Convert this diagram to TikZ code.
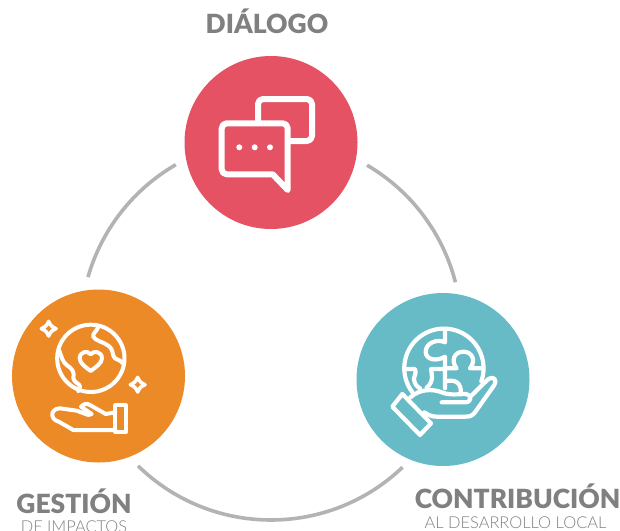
\documentclass[tikz,border=0pt]{standalone}
\usepackage{fontspec}
\setmainfont{Lato Light}
\newfontfamily\headf{Lato}[BoldFont=Lato Black]
\definecolor{cred}{HTML}{E55263}
\definecolor{corange}{HTML}{EC8A28}
\definecolor{cteal}{HTML}{66BBC6}
\definecolor{carc}{HTML}{B3B3B3}
\definecolor{ctext}{HTML}{808080}
\definecolor{csub}{HTML}{808080}
\tikzset{
  disc/.style={circle,inner sep=0pt,minimum size=173pt,fill=#1},
  ring/.style={draw=carc,line width=3.6pt},
  head/.style={anchor=base,inner sep=0pt,text=ctext,font=\headf\bfseries\fontsize{26.4}{26.4}\selectfont},
  sub/.style={anchor=base,inner sep=0pt,text=csub,font=\fontsize{16.4}{16.4}\selectfont},
  icon/.style={draw=white,line join=round,line cap=round,line width=#1},
}
\begin{document}
\begin{tikzpicture}[x=1pt,y=-1pt]
\useasboundingbox (0,0) rectangle (620,530);
\node[disc=cred] (dialogo) at (271,142.5) {};
\node[disc=corange] (gestion) at (98.5,376) {};
\node[disc=cteal] (contrib) at (443,379.5) {};
\coordinate (hub) at (271,329.6);
\coordinate (ga) at ([shift={(196:190.4)}]hub);
\coordinate (gb) at ([shift={(-59.7:190.4)}]hub);
\coordinate (gc) at ([shift={(46.3:190.4)}]hub);
\draw[ring] (ga) arc[start angle=196,end angle=240,radius=190.4];
\draw[ring] (gb) arc[start angle=-59.7,end angle=-14.4,radius=190.4];
\draw[ring] (gc) arc[start angle=46.3,end angle=134.3,radius=190.4];
\node[head] (t1) at (267,33.5) {DIÁLOGO};
\node[head] (t2) at (74,513) {GESTIÓN};
\node[sub] (t2b) at (74,532) {DE IMPACTOS};
\node[head] (t3) at (517.5,508) {CONTRIBUCIÓN};
\node[sub] (t3b) at (515.5,528.3) {AL DESARROLLO LOCAL};
% chat icon
\draw[icon=6pt] (258,123) -- (258,104) arc[start angle=180,end angle=270,radius=5] -- (307,99) arc[start angle=270,end angle=360,radius=5] -- (312,136) arc[start angle=0,end angle=90,radius=5] -- (288,141);
\draw[icon=6pt] (227,123.3) -- (282.7,123.3) arc[start angle=270,end angle=360,radius=5] -- (287.7,190) -- (272.7,174.3) -- (226.7,174.3) arc[start angle=90,end angle=180,radius=5] -- (221.7,128.3) arc[start angle=180,end angle=270,radius=5] -- cycle;
\foreach \px in {239.3,254.7,270}{\fill[white] (\px,147.3) circle[radius=3];}
% orange icon
\begin{scope}[shift={(35,315)},scale=1/3]
\draw[icon=4pt] (167.5,130) circle[radius=101];
\draw[icon=4pt] (190,35) .. controls (185,50) and (172,55) .. (175,65) .. controls (180,78) and (205,80) .. (220,92) .. controls (238,105) and (230,122) .. (240,130) .. controls (250,135) and (260,138) .. (264,145);
\draw[icon=4pt] (72,105) .. controls (80,125) and (82,140) .. (95,150) .. controls (110,160) and (120,170) .. (115,190) .. controls (118,205) and (135,205) .. (135,215) -- (130,228);
\draw[icon=4pt] (167,168) .. controls (150,155) and (135,145) .. (134,130) .. controls (134,110) and (158,105) .. (167,118) .. controls (176,105) and (201,110) .. (201,130) .. controls (200,145) and (184,155) .. (167,168) -- cycle;
\draw[icon=3.6pt] (41,19) .. controls (45,30) and (52,37) .. (63,41) .. controls (52,45) and (45,52) .. (41,63) .. controls (37,52) and (30,45) .. (19,41) .. controls (30,37) and (37,30) .. (41,19) -- cycle;
\draw[icon=3.6pt] (308,187) .. controls (312,198) and (319,205) .. (330,209) .. controls (319,213) and (312,220) .. (308,231) .. controls (304,220) and (297,213) .. (286,209) .. controls (297,205) and (304,198) .. (308,187) -- cycle;
\draw[icon=4pt] (241,271) rectangle (273,351);
\draw[icon=4pt] (241,292) -- (212,297) -- (165,270) .. controls (155,263) and (145,268) .. (138,275) -- (170,297) -- (160,300) -- (125,287) -- (75,280) .. controls (58,280) and (50,292) .. (52,302) .. controls (55,315) and (65,318) .. (75,322) -- (115,345) -- (241,345);
\end{scope}
% teal icon
\begin{scope}[shift={(395,325)},scale=1/3]
\draw[icon=4.2pt] (53,203) arc[start angle=142,end angle=379.5,radius=119];
\draw[icon=4.2pt] (150,12) -- (150,52) .. controls (125,40) and (92,55) .. (92,80) .. controls (92,105) and (125,110) .. (150,95) -- (150,190);
\draw[icon=4.2pt] (32,132) -- (60,132) -- (62,142) -- (57,160) .. controls (57,175) and (65,185) .. (75,190);
\draw[icon=4.2pt] (95,188) .. controls (105,180) and (115,165) .. (110,145) -- (108,132) -- (150,132);
\draw[icon=4.2pt] (150,130) -- (185,130) .. controls (165,105) and (180,80) .. (205,80) .. controls (230,80) and (245,105) .. (225,130) -- (264,130);
\draw[icon=4.2pt] (150,170) .. controls (180,160) and (200,175) .. (197,203);
\draw[icon=4.2pt] (22,207) -- (108,295) -- (75,330) -- (-8,245) -- cycle;
\draw[icon=4.2pt] (45,218) .. controls (75,190) and (115,192) .. (140,202) .. controls (165,212) and (190,207) .. (213,207) .. controls (230,208) and (232,232) .. (210,232) -- (140,232);
\draw[icon=4.2pt] (228,213) -- (280,162) .. controls (295,152) and (308,165) .. (298,180) -- (240,262) .. controls (232,272) and (225,275) .. (212,275) -- (125,275) .. controls (110,275) and (100,270) .. (88,262);
\end{scope}
\end{tikzpicture}
\end{document}
